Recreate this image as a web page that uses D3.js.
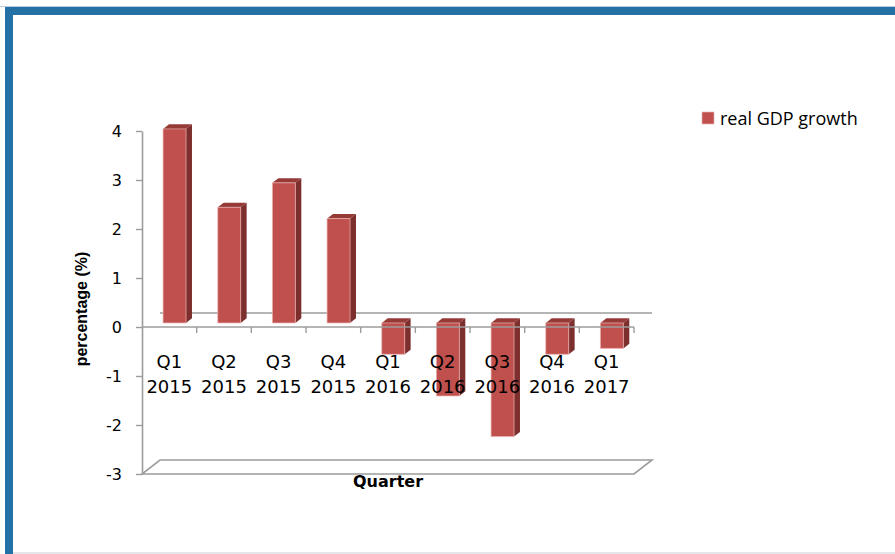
<!DOCTYPE html>
<html>
<head>
<meta charset="utf-8">
<script src="https://cdn.jsdelivr.net/npm/d3@7"></script>
<style>
  html, body { margin: 0; padding: 0; background: #ffffff; }
  svg { display: block; }
</style>
</head>
<body>
<svg id="chart" width="895" height="554"></svg>
<script>
// Quarterly real GDP growth, percent
const categories = ["Q1 2015", "Q2 2015", "Q3 2015", "Q4 2015", "Q1 2016", "Q2 2016", "Q3 2016", "Q4 2016", "Q1 2017"];
const growth = [3.96, 2.36, 2.86, 2.13, -0.64, -1.49, -2.32, -0.64, -0.52];
const yTicks = [-3, -2, -1, 0, 1, 2, 3, 4];
const seriesName = "real GDP growth";

const svg = d3.select("#chart");

// frame
svg.append("rect").attr("x", 0).attr("y", 6).attr("width", 895).attr("height", 1).attr("fill", "#b7cde0");
svg.append("rect").attr("x", 5).attr("y", 7).attr("width", 890).attr("height", 8).attr("fill", "#2471a6");
svg.append("rect").attr("x", 5).attr("y", 7).attr("width", 8).attr("height", 547).attr("fill", "#2471a6");
svg.append("rect").attr("x", 13).attr("y", 552).attr("width", 882).attr("height", 2).attr("fill", "#e4e6ea");

// scales (front plane of the 3-D box)
const x = d3.scaleBand().domain(categories).range([142, 634]).padding(0);
const y = d3.scaleLinear().domain([-3, 4]).range([474, 131]);
const bw = x.bandwidth();

// depth projection
const DX = 18, DY = -14;
const F1 = 0.29, F2 = 0.62;
const P = (px, v, d) => [px + d * DX, y(v) + d * DY];
const poly = pts => pts.map(p => p.join(",")).join(" ");

const gridColor = "#9c9c9c";

// back wall zero line
svg.append("line")
  .attr("x1", P(x.range()[0], 0, 1)[0]).attr("y1", P(0, 0, 1)[1])
  .attr("x2", P(x.range()[1], 0, 1)[0]).attr("y2", P(0, 0, 1)[1])
  .attr("stroke", gridColor).attr("stroke-width", 1.6);

// floor
const x0 = x.range()[0], x1 = x.range()[1];
svg.append("polygon")
  .attr("points", poly([P(x0, -3, 0), P(x1, -3, 0), P(x1, -3, 1), P(x0, -3, 1)]))
  .attr("fill", "none").attr("stroke", gridColor).attr("stroke-width", 1.6);

// y axis
const yAxis = d3.axisLeft(y).tickValues(yTicks).tickFormat(d => String(d))
  .tickSize(6).tickSizeOuter(0).tickPadding(14);
const gy = svg.append("g").attr("transform", `translate(${x0},0)`).call(yAxis);
gy.select(".domain").attr("stroke", gridColor).attr("stroke-width", 1.6);
gy.selectAll(".tick line").attr("stroke", gridColor).attr("stroke-width", 1.4);
gy.selectAll(".tick text")
  .attr("font-family", "'DejaVu Sans', sans-serif").attr("font-size", 16).attr("fill", "#000");

// bars
const barCol = { front: "#c0504d", top: "#953a37", side: "#7c2f2d" };
const bars = svg.append("g").selectAll("g").data(categories.map((c, i) => ({ c, v: growth[i] })))
  .join("g");
bars.each(function (d) {
  const g = d3.select(this);
  const xl = x(d.c) + bw * 0.29, xr = xl + bw * 0.42;
  const v0 = Math.min(0, d.v), v1 = Math.max(0, d.v);
  g.append("polygon").attr("points", poly([P(xr, v1, F1), P(xr, v1, F2), P(xr, v0, F2), P(xr, v0, F1)]))
    .attr("fill", barCol.side);
  g.append("polygon").attr("points", poly([P(xl, v1, F1), P(xr, v1, F1), P(xr, v1, F2), P(xl, v1, F2)]))
    .attr("fill", barCol.top);
  g.append("polygon").attr("points", poly([P(xl, v1, F1), P(xr, v1, F1), P(xr, v0, F1), P(xl, v0, F1)]))
    .attr("fill", barCol.front).attr("stroke", "#e9b3b2").attr("stroke-width", 0.7);
});

// category axis on the front plane
const gx = svg.append("g");
gx.append("line").attr("x1", x0).attr("x2", x1).attr("y1", y(0)).attr("y2", y(0))
  .attr("stroke", gridColor).attr("stroke-width", 1.6);
gx.selectAll("line.tk").data(categories).join("line").attr("class", "tk")
  .attr("x1", d => x(d) + bw).attr("x2", d => x(d) + bw)
  .attr("y1", y(0)).attr("y2", y(0) + 6)
  .attr("stroke", gridColor).attr("stroke-width", 1.4);
const lbl = gx.selectAll("text").data(categories).join("text")
  .attr("text-anchor", "middle")
  .attr("font-family", "'DejaVu Sans', sans-serif").attr("font-size", 18).attr("fill", "#000");
lbl.append("tspan").attr("x", d => x(d) + bw / 2).attr("y", y(0) + 41).text(d => d.split(" ")[0]);
lbl.append("tspan").attr("x", d => x(d) + bw / 2).attr("y", y(0) + 66).text(d => d.split(" ")[1]);

// axis titles
svg.append("text").attr("x", 388).attr("y", 487).attr("text-anchor", "middle")
  .attr("font-family", "'DejaVu Sans', sans-serif").attr("font-weight", "bold").attr("font-size", 16)
  .text("Quarter");
svg.append("text").attr("transform", "translate(87,309) rotate(-90)").attr("text-anchor", "middle")
  .attr("font-family", "'Liberation Sans', sans-serif").attr("font-weight", "bold").attr("font-size", 16)
  .text("percentage (%)");

// legend
const lg = svg.append("g").attr("transform", "translate(702,112)");
lg.append("rect").attr("width", 12).attr("height", 12).attr("fill", barCol.front)
  .attr("stroke", "#e9b3b2").attr("stroke-width", 0.7);
lg.append("text").attr("x", 18).attr("y", 13)
  .attr("font-family", "'Open Sans', sans-serif").attr("font-size", 18).attr("fill", "#000")
  .text(seriesName);
</script>
</body>
</html>
